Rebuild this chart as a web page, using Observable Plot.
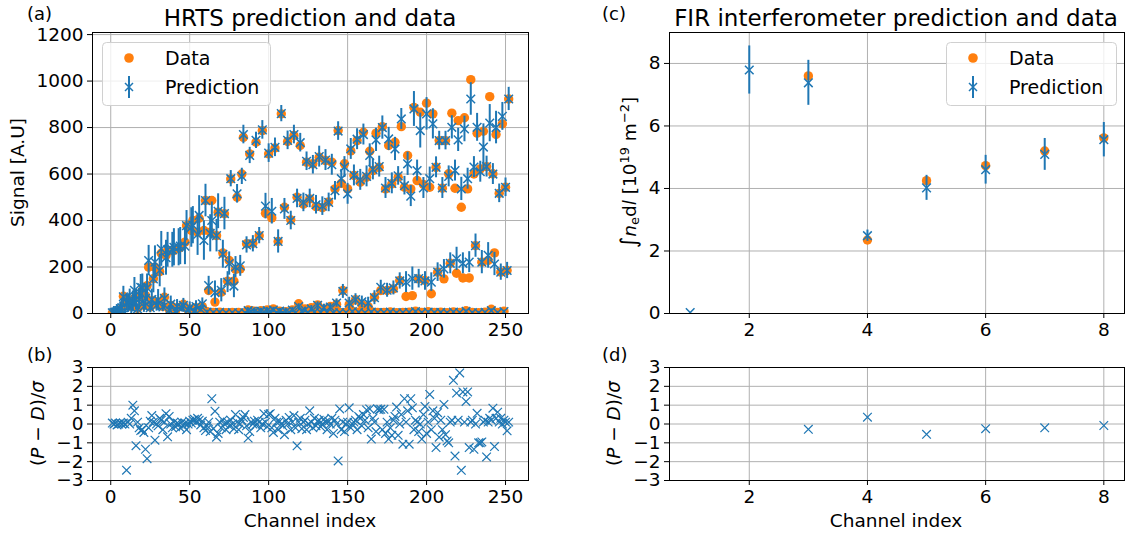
<!DOCTYPE html>
<html><head><meta charset="utf-8">
<script src="https://cdn.jsdelivr.net/npm/d3@7"></script>
<script src="https://cdn.jsdelivr.net/npm/@observablehq/plot@0.6"></script>
<style>
body{margin:0;background:#fff;}
#fig{position:relative;width:1125px;height:536px;overflow:hidden;background:#fff;font-family:"DejaVu Sans",sans-serif;}
#fig svg.plotp{position:absolute;}
#overlay{position:absolute;left:0;top:0;pointer-events:none;}
</style></head><body><div id="fig"></div>
<script>
// ---------------- HRTS data: 4 interleaved spectral channel groups (channel = 4*i + offset)
const groupOffsets = [1, 2, 3, 4];
// group 1 (near zero)
const g1Data = [2,4,45,30,22,35,28,40,30,18, 12,30,15,12,20,8,5,6,3,5, 4,3,12,6,8,10,5,4,6,3, 12,5,8,4,6,3,5,4,10,6, 3,8,5,4,7,3,5,6,10,4, 8,5,6,3,7,4,12,5,3,6, 18,4,10];
const g1Pred = [3,5,3,25,20,30,25,35,28,15, 10,25,14,10,18,6,4,5,3,4, 3,3,8,5,6,8,4,4,5,3, 9,4,6,4,5,3,4,4,8,5, 3,6,4,4,6,3,4,5,8,4, 6,4,5,3,6,4,9,4,3,5, 12,4,8];
const g1Err  = [20,25,18,25,22,25,22,25,20,18, 15,18,12,10,12,8,6,6,5,5, 5,5,6,5,5,6,5,5,5,5, 6,5,6,5,5,5,5,5,6,5, 5,6,5,5,5,5,5,5,6,5, 6,5,5,5,5,5,6,5,5,5, 8,5,6];
// group 2 (low bump then middle branch)
const g2Data = [3,15,50,50,70,77,55,50,70,35, 25,40,20,25,30,99,49,92,139,139, 192,300,302,335,431,411,310,457,403,500, 470,493,460,455,480,536,560,536,594,565, 586,615,629,536,558,586,543,536,572,555, 543,629,539,601,539,457,536,600,622,632, 601,517,543];
const g2Pred = [5,20,48,52,62,65,60,58,65,40, 30,35,25,30,42,120,90,100,135,118, 205,295,300,335,462,440,310,450,400,495, 478,495,468,462,478,528,580,515,594,575, 590,620,632,540,560,592,550,505,615,540, 580,629,540,590,615,536,580,630,610,632, 600,517,543];
const g2Err  = [25,30,35,45,45,50,45,45,45,35, 30,30,25,25,25,40,50,50,45,50, 45,35,35,35,55,55,50,45,40,40, 40,40,40,40,40,40,40,45,45,45, 45,45,45,45,45,40,40,45,45,45, 50,45,45,45,45,50,45,45,45,45, 45,40,40];
// group 3 (rising, falls to zero, then lower branch)
const g3Data = [3,20,43,65,77,120,150,180,250,270, 280,307,357,350,357,350,335,260,228,190, 600,15,10,12,15,20,10,8,15,42, 20,25,37,20,30,40,99,39,59,40, 30,70,99,99,106,142,73,77,149,142, 85,178,149,216,173,153,153,292,221,228, 261,178,185];
const g3Pred = [5,25,45,100,113,110,149,185,240,274, 285,290,370,340,314,345,335,255,215,200, 590,12,8,10,12,15,10,8,15,30, 15,20,35,25,28,45,95,45,60,50, 45,68,113,100,110,140,135,150,150,140, 135,178,192,216,235,216,221,292,221,250, 213,178,185];
const g3Err  = [25,35,40,55,55,60,60,70,75,75, 80,80,85,90,85,80,70,60,50,45, 35,12,10,10,12,12,10,10,12,12, 12,14,15,15,15,18,30,25,25,25, 25,30,30,30,30,35,45,50,40,40, 40,40,40,45,50,45,45,50,50,55, 50,35,35];
// group 4 (rising then upper branch)
const g4Data = [5,74,50,70,100,199,199,259,271,271, 285,378,400,410,486,486,436,429,579,500, 758,687,737,787,687,712,859,740,766,723, 651,644,672,658,651,787,644,700,744,780, 698,776,804,723,737,804,680,887,866,905, 859,744,744,862,830,842,1006,776,784,933, 770,816,923];
const g4Pred = [8,72,60,60,110,228,221,278,274,285, 290,378,380,422,486,400,440,430,580,515, 770,680,745,790,690,715,860,745,770,735, 655,640,675,660,640,785,630,708,750,770, 680,747,800,751,708,837,644,880,787,859, 816,744,744,801,747,794,923,801,716,819, 800,848,923];
const g4Err  = [30,45,45,45,60,65,70,75,75,80, 80,65,80,85,70,80,75,70,35,40, 40,35,35,40,40,40,35,40,40,40, 40,40,45,45,45,40,45,45,45,45, 50,50,50,50,50,45,50,75,75,70, 65,40,40,50,50,55,70,60,100,80, 70,60,50];

// residuals (P-D)/sigma for channels 1..252
const hrtsResid = [
 0.05,0.0,0.05,-0.05,0.0,0.05,0.0,0.05,0.0,-2.45,
 0.1,0.0,0.3,1.0,0.7,-1.15,0.1,-0.2,-0.35,-0.3,
 -0.45,-1.34,-1.84,-0.2,0.15,0.45,0.1,-0.86,0.0,-0.1,
 0.3,0.2,-0.3,0.1,0.55,-0.68,0.4,0.0,-0.2,0.1,
 -0.15,0.05,0.0,-0.2,0.1,-0.1,0.05,-0.3,0.0,0.15,
 0.05,0.2,0.25,0.1,0.3,0.2,-0.05,0.15,-0.2,-0.35,
 -0.1,0.1,-0.4,1.34,-0.25,0.68,-0.7,-0.5,0.1,-0.2,
 0.2,0.0,-0.3,0.1,-0.1,0.2,0.0,-0.25,0.5,0.1,
 -0.3,0.0,0.2,0.35,0.5,-0.1,-0.75,-0.4,0.1,0.0,
 0.15,-0.05,0.2,0.1,-0.2,0.0,0.55,0.1,-0.15,0.5,
 0.55,-0.2,-0.45,0.3,0.1,-0.3,0.15,0.0,-0.1,-0.57,
 0.2,0.0,0.35,-0.3,0.1,0.45,-0.2,-1.16,0.1,0.3,
 -0.25,0.1,0.2,-0.3,0.0,0.7,0.1,-0.2,0.3,-0.1,
 0.15,0.2,-0.15,0.0,0.25,0.1,-0.3,0.15,0.0,0.3,
 -0.5,0.2,0.0,-1.96,0.8,-0.3,0.1,-0.4,0.0,0.1,
 0.86,-0.2,0.0,0.1,0.2,-0.3,0.4,0.3,-0.1,0.5,
 0.2,0.75,-0.2,0.8,-0.8,0.3,0.1,-0.4,0.8,0.75,
 0.78,-0.3,0.78,-0.5,0.1,-0.8,-0.2,-0.6,0.2,0.4,
 0.9,-0.6,0.0,0.5,-1.07,1.34,0.1,0.7,-1.07,1.34,
 0.86,-0.3,0.2,0.1,-0.4,0.0,-0.8,0.5,0.93,-0.5,
 0.1,1.57,-0.3,0.7,0.3,-1.25,0.6,-0.7,0.2,-0.3,
 1.04,-0.57,-0.9,-1.0,0.1,0.2,2.32,-1.7,1.64,0.2,
 2.71,-2.46,1.7,0.1,1.2,1.7,-1.25,0.1,0.2,-1.34,
 0.0,0.57,-1.0,-1.0,-0.95,0.1,0.2,-1.75,0.1,0.3,
 0.2,0.84,-1.2,0.3,0.63,0.1,0.3,0.0,0.2,0.1,
 -0.36,0.1];

// ---------------- FIR interferometer
const firChannels = [1,2,3,4,5,6,7,8];
const firData  = [null,null,7.6,2.35,4.25,4.73,5.2,5.62];
const firPred  = [0.03,7.79,7.38,2.49,4.02,4.6,5.09,5.56];
const firErr   = [0,0.77,0.72,0.18,0.4,0.46,0.51,0.55];
const firResid = [null,null,-0.28,0.36,-0.55,-0.25,-0.2,-0.08];

// tick labels
const hrtsXTicks = [0,50,100,150,200,250];
const hrtsYTicks = [0,200,400,600,800,1000,1200];
const residTicks = [-3,-2,-1,0,1,2,3];
const firXTicks = [2,4,6,8];
const firYTicks = [0,2,4,6,8];

// ---------------- build tables
const groups = [[g1Data,g1Pred,g1Err],[g2Data,g2Pred,g2Err],[g3Data,g3Pred,g3Err],[g4Data,g4Pred,g4Err]];
const hrts = [];
groups.forEach(([D,P,E],k)=>{
  D.forEach((v,i)=>hrts.push({ch:4*i+groupOffsets[k], data:v, pred:P[i], lo:P[i]-E[i], hi:P[i]+E[i]}));
});
const hrtsRes = hrtsResid.map((r,i)=>({ch:i+1, r}));
const fir = firChannels.map((c,i)=>({ch:c, data:firData[i], pred:firPred[i], lo:firPred[i]-firErr[i], hi:firPred[i]+firErr[i]}));
const firRes = firChannels.map((c,i)=>({ch:c, r:firResid[i]})).filter(d=>d.r!==null);

const ORANGE="#ff7f0e", BLUE="#1f77b4", GRID="#b0b0b0";
const fig = document.getElementById("fig");
const fmt = d3.format("d");
const TICKFONT = 18.5;

function panel(o){
  const p = Plot.plot({
    width:o.width, height:o.height,
    marginLeft:o.ml, marginRight:o.mr, marginTop:o.mt, marginBottom:o.mb,
    x:{domain:o.xDomain}, y:{domain:o.yDomain},
    style:{fontFamily:'"DejaVu Sans", sans-serif', fontSize:TICKFONT+"px", color:"#000", background:"transparent", overflow:"visible"},
    marks:[
      Plot.gridX(o.xTicks,{stroke:GRID, strokeOpacity:1, strokeWidth:1}),
      Plot.gridY(o.yTicks,{stroke:GRID, strokeOpacity:1, strokeWidth:1}),
      ...o.marks,
      Plot.frame({stroke:"#000", strokeWidth:1}),
      Plot.axisX(o.xTicks,{tickSize:5, tickPadding:4, label:null, tickFormat:fmt, fontSize:TICKFONT}),
      Plot.axisY(o.yTicks,{tickSize:5, tickPadding:4, label:null, tickFormat:fmt, fontSize:TICKFONT})
    ]
  });
  p.classList.add("plotp");
  p.style.left=o.left+"px"; p.style.top=o.top+"px";
  fig.appendChild(p);
}

const errMarks = (tbl)=>[
  Plot.dot(tbl,{x:"ch", y:"data", r:4.7, fill:ORANGE, stroke:"none", clip:true}),
  Plot.ruleX(tbl,{x:"ch", y1:"lo", y2:"hi", stroke:BLUE, strokeWidth:2, clip:true}),
  Plot.dot(tbl,{x:"ch", y:"pred", symbol:"times", r:4, stroke:BLUE, strokeWidth:1.5, clip:true})
];

// (a)
panel({left:0, top:0, width:545, height:345, ml:92, mr:17, mt:32, mb:32,
  xDomain:[-11.55,264.55], yDomain:[0,1209], xTicks:hrtsXTicks, yTicks:hrtsYTicks, marks:errMarks(hrts)});
// (b)
panel({left:0, top:340, width:545, height:196, ml:92, mr:17, mt:27, mb:56,
  xDomain:[-11.55,264.55], yDomain:[-3,3], xTicks:hrtsXTicks, yTicks:residTicks,
  marks:[Plot.dot(hrtsRes,{x:"ch", y:"r", symbol:"times", r:4, stroke:BLUE, strokeWidth:1.2, clip:true})]});
// (c)
panel({left:560, top:0, width:565, height:345, ml:109, mr:1, mt:32, mb:32,
  xDomain:[0.65,8.35], yDomain:[0,8.99], xTicks:firXTicks, yTicks:firYTicks, marks:errMarks(fir)});
// (d)
panel({left:560, top:340, width:565, height:196, ml:109, mr:1, mt:27, mb:56,
  xDomain:[0.65,8.35], yDomain:[-3,3], xTicks:firXTicks, yTicks:residTicks,
  marks:[Plot.dot(firRes,{x:"ch", y:"r", symbol:"times", r:4, stroke:BLUE, strokeWidth:1.2, clip:true})]});

// ---------------- overlay text & legends
const F = 'font-family="DejaVu Sans, sans-serif"';
function legend(x,y,w){
  return `<g transform="translate(${x},${y})">
   <rect x="0.5" y="0.5" width="${w}" height="63" rx="4" fill="#fff" fill-opacity="0.8" stroke="#d0d0d0"/>
   <circle cx="27" cy="16" r="4.8" fill="${ORANGE}"/>
   <line x1="27" x2="27" y1="34" y2="56" stroke="${BLUE}" stroke-width="2"/>
   <path d="M23,41L31,49M23,49L31,41" stroke="${BLUE}" stroke-width="1.5" fill="none"/>
   <text x="63" y="22.8" font-size="19" ${F}>Data</text>
   <text x="63" y="51.8" font-size="19" ${F}>Prediction</text>
  </g>`;
}
const ov = `<svg id="overlay" width="1125" height="536" xmlns="http://www.w3.org/2000/svg">
 <g ${F} fill="#000">
  <text x="27" y="20" font-size="18">(a)</text>
  <text x="310" y="26" font-size="23" text-anchor="middle">HRTS prediction and data</text>
  <text x="602" y="20" font-size="18">(c)</text>
  <text x="896" y="26" font-size="23" text-anchor="middle">FIR interferometer prediction and data</text>
  <text x="27" y="361" font-size="18">(b)</text>
  <text x="602" y="361" font-size="18">(d)</text>
  <text x="310" y="527" font-size="18.5" text-anchor="middle">Channel index</text>
  <text x="896" y="527" font-size="18.5" text-anchor="middle">Channel index</text>
  <text transform="translate(23.5,172.5) rotate(-90)" font-size="18.5" text-anchor="middle">Signal [A.U]</text>
  <text transform="translate(44,423.5) rotate(-90)" font-size="18.5" text-anchor="middle">(<tspan font-style="italic">P</tspan> − <tspan font-style="italic">D</tspan>)/<tspan font-style="italic">σ</tspan></text>
  <text transform="translate(620,423.5) rotate(-90)" font-size="18.5" text-anchor="middle">(<tspan font-style="italic">P</tspan> − <tspan font-style="italic">D</tspan>)/<tspan font-style="italic">σ</tspan></text>
  <text transform="translate(636,172.5) rotate(-90)" font-size="18.5" text-anchor="middle"><tspan font-size="22">∫</tspan><tspan font-style="italic">n</tspan><tspan font-size="13" dy="3">e</tspan><tspan dy="-3">d</tspan><tspan font-style="italic">l</tspan> [10<tspan font-size="13" dy="-7">19</tspan><tspan dy="7"> m</tspan><tspan font-size="13" dy="-7">−2</tspan><tspan dy="7">]</tspan></text>
 </g>
 ${legend(102,42,168)}
 ${legend(946,42,170)}
</svg>`;
fig.insertAdjacentHTML("beforeend", ov);
</script></body></html>
